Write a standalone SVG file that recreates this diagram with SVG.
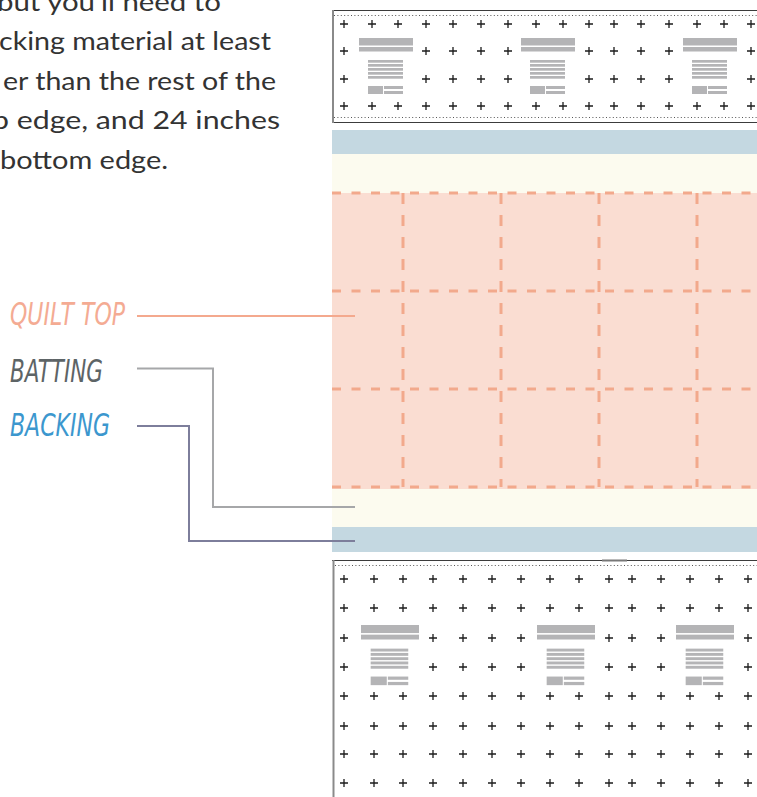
<svg xmlns="http://www.w3.org/2000/svg" xmlns:xlink="http://www.w3.org/1999/xlink" width="757" height="797" viewBox="0 0 757 797">
<style>
.para{font-family:Lato,"Open Sans","Liberation Sans",sans-serif;font-size:25.5px;fill:#333333}
.lbl{font-family:"Liberation Sans Narrow","DejaVu Sans Condensed","Liberation Sans",sans-serif;font-style:italic;font-size:32px}
.cross{stroke:#1c1c1c;stroke-width:1.3;fill:none}
.frame{stroke:#3c3c3c;stroke-width:1.2;fill:none}
.dots{stroke:#555;stroke-width:1;stroke-dasharray:1 2.4;fill:none}
.side{stroke:#8a8a8a;stroke-width:2;fill:none}
.seam{stroke:#f2a98c;stroke-width:3;fill:none}
.conn{fill:none;stroke-width:2}
</style>
<defs>
<g id="blk" fill="#B4B4B6">
<rect x="0" y="0" width="54" height="7.5"/>
<rect x="0" y="9" width="54" height="4.5"/>
<rect x="9" y="22" width="35" height="2.7"/>
<rect x="9" y="26" width="35" height="2.7"/>
<rect x="9" y="30" width="35" height="2.7"/>
<rect x="9" y="34" width="35" height="2.7"/>
<rect x="9" y="38" width="35" height="2.7"/>
<rect x="9" y="48" width="15" height="8"/>
<rect x="25" y="48" width="19" height="3"/>
<rect x="25" y="53" width="19" height="3"/>
</g>
<path id="tA" class="cross" d="M340 0h8M344 -4v8M368 0h8M372 -4v8M394 0h8M398 -4v8M422 0h8M426 -4v8M449 0h8M453 -4v8M477 0h8M481 -4v8M504 0h8M508 -4v8M532 0h8M536 -4v8M559 0h8M563 -4v8M585 0h8M589 -4v8M610 0h8M614 -4v8M637 0h8M641 -4v8M665 0h8M669 -4v8M693 0h8M697 -4v8M720 0h8M724 -4v8M747 0h8M751 -4v8"/>
<path id="tB" class="cross" d="M340 0h8M344 -4v8M422 0h8M426 -4v8M449 0h8M453 -4v8M477 0h8M481 -4v8M504 0h8M508 -4v8M585 0h8M589 -4v8M610 0h8M614 -4v8M637 0h8M641 -4v8M665 0h8M669 -4v8M747 0h8M751 -4v8"/>
<path id="bA" class="cross" d="M340 0h8M344 -4v8M370 0h8M374 -4v8M399 0h8M403 -4v8M429 0h8M433 -4v8M459 0h8M463 -4v8M488 0h8M492 -4v8M517 0h8M521 -4v8M546 0h8M550 -4v8M575 0h8M579 -4v8M605 0h8M609 -4v8M628 0h8M632 -4v8M657 0h8M661 -4v8M686 0h8M690 -4v8M715 0h8M719 -4v8M744 0h8M748 -4v8"/>
<path id="bB" class="cross" d="M340 0h8M344 -4v8M429 0h8M433 -4v8M459 0h8M463 -4v8M488 0h8M492 -4v8M517 0h8M521 -4v8M605 0h8M609 -4v8M628 0h8M632 -4v8M657 0h8M661 -4v8M744 0h8M748 -4v8"/>
</defs>
<rect width="757" height="797" fill="#ffffff"/>

<g id="paragraph">
<text class="para" x="-3" y="11" textLength="224" lengthAdjust="spacingAndGlyphs">but you'll need to</text>
<text class="para" x="-1" y="50" textLength="272" lengthAdjust="spacingAndGlyphs">cking material at least</text>
<text class="para" x="3" y="89.5" textLength="273" lengthAdjust="spacingAndGlyphs">er than the rest of the</text>
<text class="para" x="-8" y="129" textLength="288" lengthAdjust="spacingAndGlyphs">p edge, and 24 inches</text>
<text class="para" x="0" y="168.5" textLength="168" lengthAdjust="spacingAndGlyphs">bottom edge.</text>
</g>

<g id="top-panel">
<path class="frame" d="M332 10.5H757M332 122.5H757"/>
<path class="dots" d="M334 15.5H757M334 117.5H757"/>
<path class="side" d="M333 10V123"/>
<use href="#tA" y="24"/>
<use href="#tB" y="51"/>
<use href="#tB" y="79"/>
<use href="#tA" y="106"/>
<use href="#blk" transform="translate(359,38)"/>
<use href="#blk" transform="translate(521,38)"/>
<use href="#blk" transform="translate(683,38)"/>
</g>

<g id="backing-layer">
<rect x="332" y="130" width="425" height="24" fill="#C4D8E1"/>
<rect x="332" y="527" width="425" height="25" fill="#C4D8E1"/>
</g>
<g id="batting-layer">
<rect x="332" y="154" width="425" height="39" fill="#FCFBEF"/>
<rect x="332" y="489" width="425" height="38" fill="#FCFBEF"/>
</g>
<g id="quilt-top">
<rect x="332" y="193" width="425" height="296" fill="#FADDD2"/>
<path class="seam" stroke-dasharray="9 10.5" d="M332 193H757M332 291H757M332 389H757M332 487H757"/>
<path class="seam" stroke-dasharray="11 11" d="M403 193V487M501 193V487M599 193V487M697 193V487"/>
</g>

<g id="bottom-panel">
<path class="frame" d="M332 560.5H757"/>
<path stroke="#777" stroke-width="2" d="M602 560.5H627"/>
<path class="dots" d="M335 565.5H757"/>
<path class="side" d="M333.5 560V797"/>
<use href="#bA" y="579"/>
<use href="#bA" y="608"/>
<use href="#bB" y="638"/>
<use href="#bB" y="667"/>
<use href="#bA" y="696"/>
<use href="#bA" y="726"/>
<use href="#bA" y="754"/>
<use href="#bA" y="783"/>
<use href="#blk" transform="translate(361,625) scale(1.074)"/>
<use href="#blk" transform="translate(537,625) scale(1.074)"/>
<use href="#blk" transform="translate(676,625) scale(1.074)"/>
</g>

<g id="connectors">
<path class="conn" stroke="#F4A98E" d="M137 316H355"/>
<path class="conn" stroke="#A6A7A9" d="M137 368.5H213V507H355"/>
<path class="conn" stroke="#7D7E9B" d="M137 426H189V541H355"/>
</g>

<g id="label-quilt-top"><text class="lbl" x="10" y="325" fill="#F4AB93" textLength="115" lengthAdjust="spacingAndGlyphs">QUILT TOP</text></g>
<g id="label-batting"><text class="lbl" x="10" y="382" fill="#5D6466" textLength="93" lengthAdjust="spacingAndGlyphs">BATTING</text></g>
<g id="label-backing"><text class="lbl" x="10" y="436" fill="#3C97CE" textLength="100" lengthAdjust="spacingAndGlyphs">BACKING</text></g>
</svg>
